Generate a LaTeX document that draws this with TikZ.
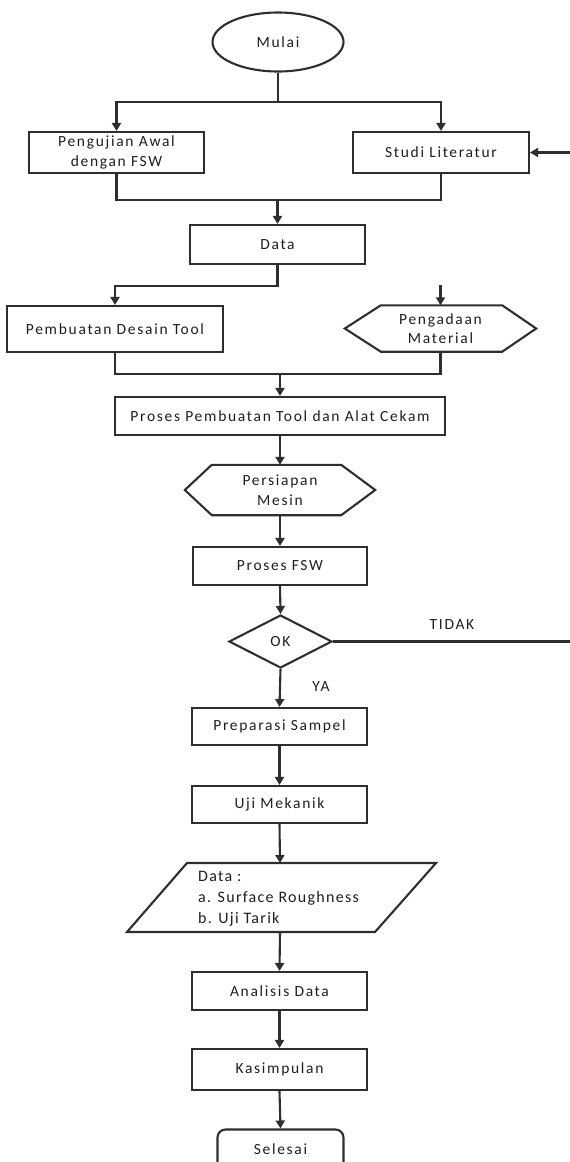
\documentclass[tikz,border=0pt]{standalone}
\usepackage{fontspec}
\setmainfont{Carlito}[LetterSpace=11]
\newfontfamily\plainfont{Carlito}[LetterSpace=8]
\usetikzlibrary{shapes.geometric,arrows.meta,calc}
\definecolor{ln}{HTML}{2E2E2E}
\definecolor{tx}{HTML}{1E1E1E}
\tikzset{
  box/.style={draw=ln, line width=2.1pt, rectangle, inner sep=0pt, text=tx, font=\fontsize{15.5}{19.5}\selectfont, align=center},
  hexbox/.style={draw=none, rectangle, inner sep=0pt, text=tx, font=\fontsize{15.5}{19.5}\selectfont, align=center},
  conn/.style={draw=ln, line width=2.1pt},
  arr/.style={conn, -{Triangle[width=9pt,length=8pt]}},
  lbl/.style={text=tx, font=\fontsize{15.5}{19}\selectfont, inner sep=0pt}
}
\begin{document}
\begin{tikzpicture}[x=1pt,y=-1pt]
\useasboundingbox (0,0) rectangle (570,1162);
\clip (0,0) rectangle (570,1162);
% nodes
\node[box, ellipse, minimum width=131pt, minimum height=59pt] (mulai) at (278,42) {Mulai};
\node[box, minimum width=175pt, minimum height=41pt] (peng) at (116.5,152.5) {Pengujian Awal\\dengan FSW};
\node[box, minimum width=176pt, minimum height=41pt] (studi) at (441,152.5) {Studi Literatur};
\node[box, minimum width=175pt, minimum height=39pt] (data) at (277.5,244.5) {Data};
\node[box, minimum width=216pt, minimum height=46pt] (desain) at (115,329) {Pembuatan Desain Tool};
\node[hexbox, minimum width=191pt, minimum height=46pt] (adaan) at (440.5,328.5) {Pengadaan\\Material};
\draw[conn] (adaan.west) -- ($(adaan.north west)+(36,0)$) -- ($(adaan.north east)+(-34,0)$) -- (adaan.east) -- ($(adaan.south east)+(-34,0)$) -- ($(adaan.south west)+(36,0)$) -- cycle;
\node[box, minimum width=330pt, minimum height=38pt] (proses) at (280,416) {Proses Pembuatan Tool dan Alat Cekam};
\node[hexbox, minimum width=190pt, minimum height=50pt] (siap) at (280,490) {Persiapan\\Mesin};
\draw[conn] (siap.west) -- ($(siap.north west)+(27,0)$) -- ($(siap.north east)+(-34,0)$) -- (siap.east) -- ($(siap.south east)+(-34,0)$) -- ($(siap.south west)+(27,0)$) -- cycle;
\node[box, minimum width=174pt, minimum height=38pt] (fsw) at (280,566) {Proses FSW};
\node[box, diamond, minimum width=103pt, minimum height=53pt] (ok) at (280.5,641.5) {OK};
\node[box, minimum width=175pt, minimum height=37pt] (prep) at (279.5,726.5) {Preparasi Sampel};
\node[box, minimum width=175pt, minimum height=37pt] (uji) at (279.5,804.5) {Uji Mekanik};
% data output parallelogram
\coordinate (p1) at (187,863);
\coordinate (p2) at (436,863);
\coordinate (p3) at (375,932);
\coordinate (p4) at (127,932);
\coordinate (dtop) at (280,863);
\coordinate (dbot) at (280,932);
\draw[conn] (p1) -- (p2) -- (p3) -- (p4) -- cycle;
\node[lbl, anchor=west, align=left, font=\plainfont\fontsize{16}{21}\selectfont] (dout) at (198,899) {Data :\\a. Surface Roughness\\b. Uji Tarik};
\node[box, minimum width=175pt, minimum height=38pt] (anal) at (279.5,991) {Analisis Data};
\node[box, minimum width=175pt, minimum height=41pt] (kes) at (279.5,1069.5) {Kasimpulan};
\node[box, rounded corners=8pt, minimum width=126pt, minimum height=40pt] (sel) at (280.5,1149.5) {Selesai};
% junction coordinates
\coordinate (j1) at (278,102);
\coordinate (j2) at (277.5,200);
\coordinate (j3) at (277.5,286);
\coordinate (a0) at (440.5,285);
\coordinate (j4) at (280,374);
\coordinate (r1) at (580,641.5);
\coordinate (r2) at (580,152.5);
% connectors
\draw[conn] (mulai.south) -- (j1);
\draw[arr] (j1) -| (peng.north);
\draw[arr] (j1) -| (studi.north);
\draw[conn] (peng.south) |- (j2) -| (studi.south);
\draw[arr] (j2) -- (data.north);
\draw[arr] (data.south) -- (j3) -| (desain.north);
\draw[arr] (a0) -- (adaan.north);
\draw[conn] (desain.south) |- (j4) -| (adaan.south);
\draw[arr] (j4) -- (proses.north);
\draw[arr] (proses.south) -- (siap.north);
\draw[arr] (siap.south) -- (fsw.north);
\draw[arr] (fsw.south) -- (ok.north);
\draw[arr] (ok.south) -- (prep.north);
\draw[arr] (prep.south) -- (uji.north);
\draw[arr] (uji.south) -- (dtop);
\draw[arr] (dbot) -- (anal.north);
\draw[arr] (anal.south) -- (kes.north);
\draw[arr] (kes.south) -- (sel.north);
\draw[arr] (ok.east) -- (r1) -- (r2) -- (studi.east);
\node[lbl] (tidak) at (452,625) {TIDAK};
\node[lbl] (ya) at (321,687) {YA};
\end{tikzpicture}
\end{document}
